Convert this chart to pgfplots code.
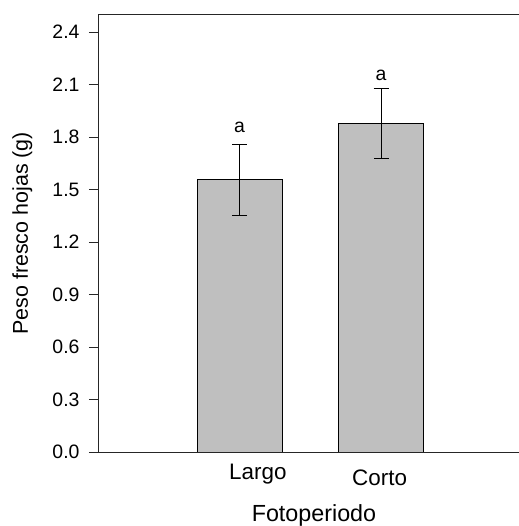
\documentclass[border=0pt]{standalone}
\usepackage{fontspec}
\setmainfont{Liberation Sans}
\usepackage{pgfplots}
\pgfplotsset{compat=1.18}
\begin{document}
\begin{tikzpicture}[x=1bp,y=1bp]
\useasboundingbox (0,0) rectangle (519,526);
\begin{axis}[
  at={(98bp,74bp)}, anchor=south west,
  scale only axis, width=421bp, height=437.4bp,
  xmin=0, xmax=2.975, ymin=0, ymax=2.5,
  axis x line=box, axis y line=left,
  axis line style={-, draw=black!85, line width=0.9bp},
  /pgf/number format/assume math mode=true,
  ytick={0,0.3,0.6,0.9,1.2,1.5,1.8,2.1,2.4},
  yticklabels={0.0,0.3,0.6,0.9,1.2,1.5,1.8,2.1,2.4},
  tick align=outside,
  major tick length=9bp,
  y tick style={draw=black!85, line width=0.9bp},
  x tick style={draw=none},
  yticklabel style={font=\fontsize{19.5}{19.5}\selectfont, xshift=-6bp},
  xtick={1.13}, xticklabels={Largo},
  extra x ticks={1.99}, extra x tick labels={Corto},
  xticklabel style={font=\fontsize{22.5}{22.5}\selectfont},
  extra x tick style={tick style={draw=none}, xticklabel style={yshift=-5bp}},
  xlabel={Fotoperiodo},
  xlabel style={at={(axis description cs:0.513,-0.1594)}, anchor=base, font=\fontsize{23.4}{23.4}\selectfont},
  ylabel={Peso fresco hojas (g)},
  ylabel style={at={(axis description cs:-0.1663,0.5)}, anchor=base, rotate=0, font=\fontsize{21.5}{21.5}\selectfont},
]
\addplot[ybar, bar width=0.6, fill=black!25, draw=black, line width=0.7bp,
  error bars/.cd, y dir=both, y explicit,
  error bar style={line width=1bp, black},
  error mark options={rotate=90, mark size=7.5bp, line width=1bp, black}]
  coordinates {(1,1.556) +- (0,0.202) (2,1.878) +- (0,0.202)};
\node[anchor=base, font=\fontsize{19.5}{19.5}\selectfont] at (axis cs:1,1.824) {a};
\node[anchor=base, font=\fontsize{19.5}{19.5}\selectfont] at (axis cs:2,2.121) {a};
\end{axis}
\end{tikzpicture}
\end{document}
